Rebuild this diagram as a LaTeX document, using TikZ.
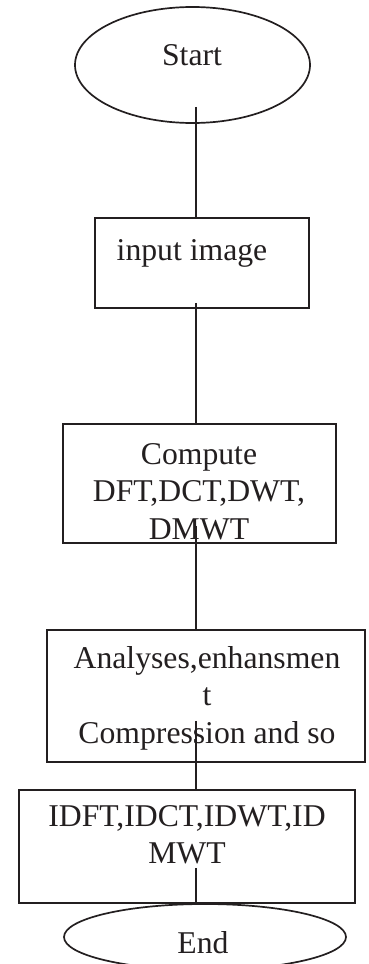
\documentclass[tikz,border=0pt]{standalone}
\usepackage{fontspec}
\setmainfont{Liberation Serif}
\usepackage{tikz}
\usetikzlibrary{calc,shapes.geometric}
\definecolor{ink}{HTML}{231F20}

\begin{document}
\begin{tikzpicture}[x=1pt, y=-1pt,
    box/.style={draw=ink, line width=1.7pt, rectangle, inner sep=0pt},
    oval/.style={draw=ink, line width=1.7pt, ellipse, inner sep=0pt},
    boxtext/.style={text=ink, inner sep=0pt, align=center,
      font=\fontsize{31.7}{37.5}\selectfont},
    link/.style={draw=ink, line width=2.1pt}]
  \useasboundingbox (0,0) rectangle (369,964);
  \coordinate (spine) at (196,0);

  \node[oval, minimum width=235pt, minimum height=116pt] (start) at (192.5,65) {};
  \node[box, minimum width=214pt, minimum height=90pt] (input) at (202,263) {};
  \node[box, minimum width=273pt, minimum height=119pt] (compute) at (199.5,483.5) {};
  \node[box, minimum width=318pt, minimum height=132pt] (analyses) at (206,696) {};
  \node[box, minimum width=336pt, minimum height=113pt] (inverse) at (187,846.5) {};
  \node[oval, minimum width=282pt, minimum height=66pt] (end) at (205,937) {};

  {\node[boxtext, anchor=base] (start-text) at (192,65) {Start};};
  {\node[boxtext, anchor=base] (input-text) at (192,260) {input image};};
  {\node[boxtext, anchor=north] (compute-text) at (199,443) {Compute\\DFT,DCT,DWT,\\DMWT};};
  {\node[boxtext, anchor=north] (analyses-text) at (207,646) {Analyses,enhansmen\\t\\Compression and so};};
  {\node[boxtext, anchor=north] (inverse-text) at (187,805) {IDFT,IDCT,IDWT,ID\\MWT};};
  {\node[boxtext, anchor=base] (end-text) at (203,953) {End};};

  \path ([yshift=17pt]start.south -| spine) edge[link] (input.north -| spine)
        ([yshift=6pt]input.south -| spine) edge[link] (compute.north -| spine)
        ([yshift=18pt]compute.south -| spine) edge[link] (analyses.north -| spine)
        ([yshift=42pt]analyses.south -| spine) edge[link] (inverse.north -| spine)
        ([yshift=36pt]inverse.south -| spine) edge[link] (end.north -| spine);
\end{tikzpicture}
\end{document}
